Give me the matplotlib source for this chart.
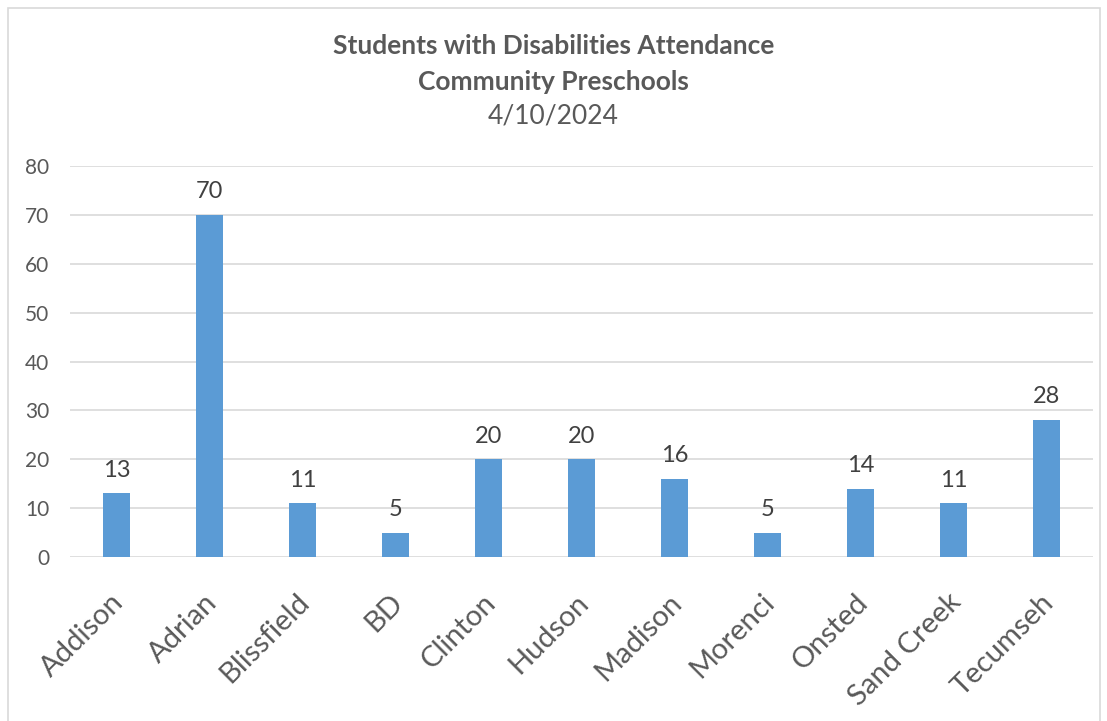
import matplotlib.pyplot as plt
from matplotlib.patches import Rectangle
from matplotlib.transforms import offset_copy

schools = ["Addison", "Adrian", "Blissfield", "BD", "Clinton", "Hudson",
           "Madison", "Morenci", "Onsted", "Sand Creek", "Tecumseh"]
students = [13, 70, 11, 5, 20, 20, 16, 5, 14, 11, 28]
yticks = [0, 10, 20, 30, 40, 50, 60, 70, 80]

textColor = "#595959"
plt.rcParams["font.family"] = ["Lato", "DejaVu Sans"]

fig = plt.figure(figsize=(11.07, 7.21), dpi=100)
ax = fig.add_axes([70 / 1107, 1 - 557 / 721, (1093 - 70) / 1107, (557 - 166) / 721])

# light frame round the whole chart
fig.patches.append(Rectangle((8 / 1107, -0.01), (1100 - 8) / 1107, 1 - 8 / 721 + 0.01,
                             transform=fig.transFigure, fill=False,
                             edgecolor="#D9D9D9", linewidth=1.2))

x = list(range(len(schools)))
ax.bar(x, students, width=0.3, color="#5B9BD5", zorder=3)
for i, v in zip(x, students):
    ax.text(i, v + 2.6, str(v), ha="center", va="bottom", fontsize=17, color="#404040")

ax.set_xlim(-0.5, len(schools) - 0.5)
ax.set_ylim(0, 80)
ax.set_yticks(yticks)
ax.yaxis.grid(True, color="#D9D9D9", linewidth=1.2, zorder=0)
ax.tick_params(axis="both", length=0, colors=textColor)
ax.tick_params(axis="y", labelsize=15, pad=15)
ax.set_xticks(x)
ax.set_xticklabels([])

# rotated school names hanging below each bar
for i, name in enumerate(schools):
    trans = offset_copy(ax.get_xaxis_transform(), fig=fig, x=-6, y=-32, units="dots")
    ax.text(i, 0, name, transform=trans, rotation=45, ha="right", va="top",
            rotation_mode="anchor", fontsize=21, color=textColor)

for s in ax.spines.values():
    s.set_visible(False)

fig.text(0.5, 1 - 46 / 721, "Students with Disabilities Attendance", ha="center", va="center",
         fontsize=19, fontweight="bold", color=textColor)
fig.text(0.5, 1 - 82 / 721, "Community Preschools", ha="center", va="center",
         fontsize=19, fontweight="bold", color=textColor)
fig.text(0.5, 1 - 116 / 721, "4/10/2024", ha="center", va="center",
         fontsize=19, color=textColor)

plt.savefig("out.png")
